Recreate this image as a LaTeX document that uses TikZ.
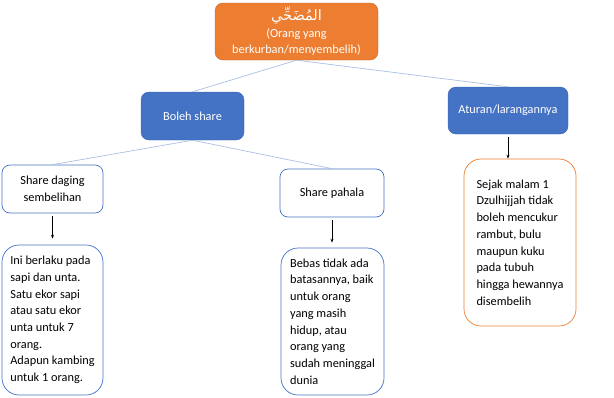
\documentclass[tikz,border=0pt]{standalone}
\usepackage{fontspec}
\setmainfont{Carlito}
\newfontfamily\arabicfont[Script=Arabic]{DejaVu Sans}
\TeXXeTstate=1
\usetikzlibrary{arrows.meta, positioning}
\definecolor{offorange}{HTML}{ED7D31}
\definecolor{offblue}{HTML}{4472C4}
\definecolor{darkblue}{HTML}{3A64B0}
\definecolor{linkblue}{HTML}{A9BFE3}
\tikzset{
  box/.style={rounded corners=8pt, inner sep=0pt, align=center,
    font=\fontsize{12.3}{16.7}\selectfont},
  rootbox/.style={box, fill=offorange, draw=offorange!85!black, text=white,
    minimum width=163pt, minimum height=57pt},
  catbox/.style={box, fill=offblue, draw=darkblue, text=white,
    minimum height=47pt},
  itembox/.style={box, fill=white, draw=offblue, line width=0.7pt,
    minimum height=48pt},
  notebox/.style={box, rounded corners=17pt, align=left, fill=white,
    draw=offblue, line width=0.7pt},
  link/.style={draw=linkblue, line width=0.7pt},
  downarrow/.style={-{Stealth[length=4pt, width=3pt]}, line width=0.8pt}
}
\begin{document}
\begin{tikzpicture}[x=1pt, y=-1pt]
  \useasboundingbox (0,0) rectangle (614,397);
  % top level
  \node[rootbox] (mudhahhi) at (296.5,31.5)
    {{\arabicfont\fontsize{14.5}{17}\selectfont\beginR المُضَحِّي\endR}\\(Orang yang\\berkurban/menyembelih)};
  % second level
  \node[catbox, minimum width=103pt, minimum height=48pt] (boleh) at (192.5,116) {Boleh share};
  \node[catbox, minimum width=120pt] (aturan) at (508,110.5) {Aturan/larangannya};
  % third level
  \node[itembox, minimum width=101pt] (daging) at (52.5,189) {Share daging\\sembelihan};
  \node[itembox, minimum width=104pt] (pahala) at (332,193) {Share pahala};
  % notes
  \node[notebox, minimum width=101pt, minimum height=150pt] (notedaging) at (52.5,320)
    {Ini berlaku pada\\sapi dan unta.\\Satu ekor sapi\\atau satu ekor\\unta untuk 7\\orang.\\Adapun kambing\\untuk 1 orang.};
  \node[notebox, minimum width=103pt, minimum height=147pt] (notepahala) at (332.5,321.5)
    {Bebas tidak ada\\batasannya, baik\\untuk orang\\yang masih\\hidup, atau\\orang yang\\sudah meninggal\\dunia};
  \node[notebox, draw=offorange, minimum width=112pt, minimum height=167pt] (notaturan) at (520,242.5)
    {Sejak malam 1\\Dzulhijjah tidak\\boleh mencukur\\rambut, bulu\\maupun kuku\\pada tubuh\\hingga hewannya\\disembelih};
  % connectors
  \draw[link] (mudhahhi.south) -- (boleh.north);
  \draw[link] (mudhahhi.south) -- (aturan.north);
  \draw[link] (boleh.south) -- (daging.north);
  \draw[link] (boleh.south) -- (pahala.north);
  \draw[downarrow, shorten <=3pt, shorten >=6pt] (daging.south) -- (daging.south |- notedaging.north);
  \draw[downarrow, shorten <=3pt, shorten >=5pt] (pahala.south) -- (pahala.south |- notepahala.north);
  \draw[downarrow, shorten <=3pt] (aturan.south) -- (aturan.south |- notaturan.north);
\end{tikzpicture}
\end{document}
